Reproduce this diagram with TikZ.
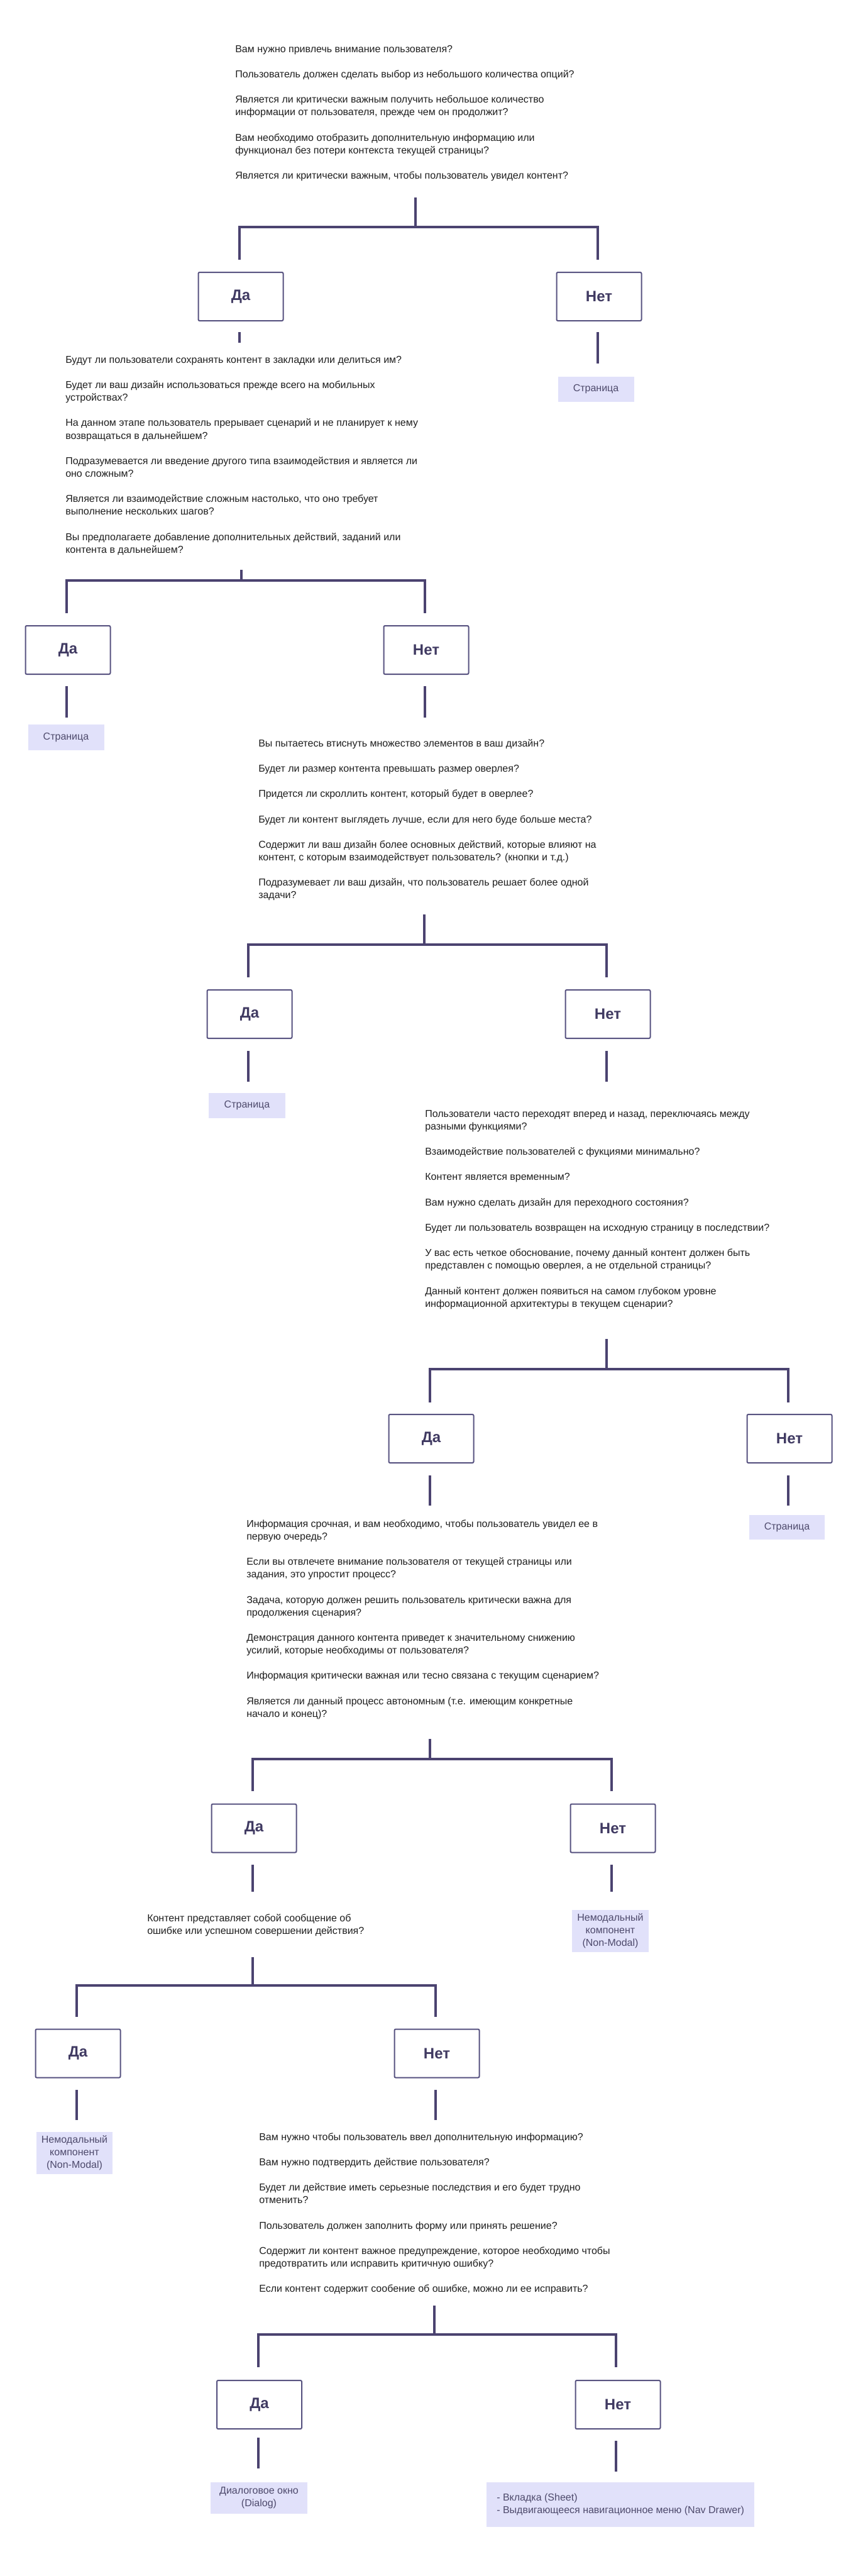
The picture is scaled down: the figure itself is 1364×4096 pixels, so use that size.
\documentclass[tikz,border=0pt]{standalone}
\usepackage{fontspec}
\setmainfont{Liberation Sans}
\definecolor{linec}{HTML}{4B4370}
\definecolor{boxc}{HTML}{575280}
\definecolor{labc}{HTML}{403A62}
\definecolor{resf}{HTML}{E1E1FA}
\definecolor{rest}{HTML}{4E4A6C}
\definecolor{qc}{HTML}{1F1F1F}
\newcommand\pg{15.1pt}
\newcommand\qs{\rule{0pt}{12pt}}
\newcommand\mkTee[7]{%
  \coordinate (#1t) at (#2,#3);
  \coordinate (#1m) at (#2,#4);
  \coordinate (#1l) at (#5,#4);
  \coordinate (#1r) at (#6,#4);
  \coordinate (#1ld) at (#5,#7);
  \coordinate (#1rd) at (#6,#7);
  \draw[conn] (#1t) -- (#1m);
  \draw[conn] (#1ld) -- (#1l) -- (#1r) -- (#1rd);}
\newcommand\mkLine[4]{%
  \coordinate (#1a) at (#2,#3);
  \coordinate (#1b) at (#2,#4);
  \draw[conn] (#1a) -- (#1b);}
\begin{document}
\begin{tikzpicture}[x=0.75pt,y=-0.75pt,
  conn/.style={draw=linec,line width=3.4pt},
  qtext/.style={anchor=north west,inner sep=0pt,align=left,text=qc,font=\fontsize{12pt}{\pg}\selectfont},
  yn/.style={draw=boxc,line width=1.5pt,rounded corners=1.5pt,minimum width=101.25pt,minimum height=57.75pt,inner sep=0pt,text=labc,font=\fontsize{18pt}{21pt}\selectfont\bfseries},
  res/.style={fill=resf,inner sep=0pt,align=center,text=rest,font=\fontsize{12pt}{15pt}\selectfont},
]
\useasboundingbox (0,0) rectangle (1364,4096);
\fill[white] (0,0) rectangle (1364,4096);

% ---------- Section 1
\node[qtext] (q1) at (374,67) {\qs Вам нужно привлечь внимание пользователя?\\[\pg]
Пользователь должен сделать выбор из небольшого количества опций?\\[\pg]
Является ли критически важным получить небольшое количество\\
информации от пользователя, прежде чем он продолжит?\\[\pg]
Вам необходимо отобразить дополнительную информацию или\\
функционал без потери контекста текущей страницы?\\[\pg]
Является ли критически важным, чтобы пользователь увидел контент?};
\mkTee{s1}{661}{314}{361}{381}{951}{413}
\node[yn] (da1) at (383,471.5) {Да};
\node[yn] (net1) at (953,471.5) {Нет};
\mkLine{u1l}{381}{528}{545}
\mkLine{u1r}{951}{528}{578}
\node[res,minimum width=90.75pt,minimum height=30pt] (res1) at (948,619) {Страница};

% ---------- Section 2
\node[qtext] (q2) at (104,561) {\qs Будут ли пользователи сохранять контент в закладки или делиться им?\\[\pg]
Будет ли ваш дизайн использоваться прежде всего на мобильных\\
устройствах?\\[\pg]
На данном этапе пользователь прерывает сценарий и не планирует к нему\\
возвращаться в дальнейшем?\\[\pg]
Подразумевается ли введение другого типа взаимодействия и является ли\\
оно сложным?\\[\pg]
Является ли взаимодействие сложным настолько, что оно требует\\
выполнение нескольких шагов?\\[\pg]
Вы предполагаете добавление дополнительных действий, заданий или\\
контента в дальнейшем?};
\mkTee{s2}{384}{906}{923}{106}{676}{975}
\node[yn] (da2) at (108,1033.5) {Да};
\node[yn] (net2) at (678,1033.5) {Нет};
\mkLine{u2l}{106}{1091}{1141}
\mkLine{u2r}{676}{1091}{1141}
\node[res,minimum width=90.75pt,minimum height=30.75pt] (res2) at (105,1172.5) {Страница};

% ---------- Section 3
\node[qtext] (q3) at (411,1171) {\qs Вы пытаетесь втиснуть множество элементов в ваш дизайн?\\[\pg]
Будет ли размер контента превышать размер оверлея?\\[\pg]
Придется ли скроллить контент, который будет в оверлее?\\[\pg]
Будет ли контент выглядеть лучше, если для него буде больше места?\\[\pg]
Содержит ли ваш дизайн более основных действий, которые влияют на\\
контент, с которым взаимодействует пользователь? (кнопки и т.д.)\\[\pg]
Подразумевает ли ваш дизайн, что пользователь решает более одной\\
задачи?};
\mkTee{s3}{675}{1454}{1502}{395}{965}{1554}
\node[yn] (da3) at (397,1612.5) {Да};
\node[yn] (net3) at (967,1612.5) {Нет};
\mkLine{u3l}{395}{1671}{1720}
\mkLine{u3r}{965}{1671}{1720}
\node[res,minimum width=91.5pt,minimum height=30pt] (res3) at (393,1758) {Страница};

% ---------- Section 4
\node[qtext] (q4) at (676,1760) {\qs Пользователи часто переходят вперед и назад, переключаясь между\\
разными функциями?\\[\pg]
Взаимодействие пользователей с фукциями минимально?\\[\pg]
Контент является временным?\\[\pg]
Вам нужно сделать дизайн для переходного состояния?\\[\pg]
Будет ли пользователь возвращен на исходную страницу в последствии?\\[\pg]
У вас есть четкое обоснование, почему данный контент должен быть\\
представлен с помощью оверлея, а не отдельной страницы?\\[\pg]
Данный контент должен появиться на самом глубоком уровне\\
информационной архитектуры в текущем сценарии?};
\mkTee{s4}{965}{2129}{2177}{684}{1254}{2230}
\node[yn] (da4) at (686,2287.5) {Да};
\node[yn] (net4) at (1256,2287.5) {Нет};
\mkLine{u4l}{684}{2346}{2394}
\mkLine{u4r}{1254}{2346}{2394}
\node[res,minimum width=90pt,minimum height=29.25pt] (res4) at (1252,2428.5) {Страница};

% ---------- Section 5
\node[qtext] (q5) at (392,2412) {\qs Информация срочная, и вам необходимо, чтобы пользователь увидел ее в\\
первую очередь?\\[\pg]
Если вы отвлечете внимание пользователя от текущей страницы или\\
задания, это упростит процесс?\\[\pg]
Задача, которую должен решить пользователь критически важна для\\
продолжения сценария?\\[\pg]
Демонстрация данного контента приведет к значительному снижению\\
усилий, которые необходимы от пользователя?\\[\pg]
Информация критически важная или тесно связана с текущим сценарием?\\[\pg]
Является ли данный процесс автономным (т.е. имеющим конкретные\\
начало и конец)?};
\mkTee{s5}{684}{2765}{2797}{402}{973}{2848}
\node[yn] (da5) at (404,2907) {Да};
\node[yn] (net5) at (975,2907) {Нет};
\mkLine{u5l}{402}{2965}{3008}
\mkLine{u5r}{973}{2965}{3008}
\node[res,minimum width=91.5pt,minimum height=50.25pt] (res5) at (971,3070.5) {Немодальный\\компонент\\(Non-Modal)};

% ---------- Section 6
\node[qtext] (q6) at (234,3039) {\qs Контент представляет собой сообщение об\\
ошибке или успешном совершении действия?};
\mkTee{s6}{402}{3112}{3157}{122}{693}{3207}
\node[yn] (da6) at (124,3265) {Да};
\node[yn] (net6) at (695,3265) {Нет};
\mkLine{u6l}{122}{3323}{3371}
\mkLine{u6r}{693}{3323}{3371}
\node[res,minimum width=90.75pt,minimum height=50.25pt] (res6) at (118.5,3423.5) {Немодальный\\компонент\\(Non-Modal)};

% ---------- Section 7
\node[qtext] (q7) at (412,3387) {\qs Вам нужно чтобы пользователь ввел дополнительную информацию?\\[\pg]
Вам нужно подтвердить действие пользователя?\\[\pg]
Будет ли действие иметь серьезные последствия и его будет трудно\\
отменить?\\[\pg]
Пользователь должен заполнить форму или принять решение?\\[\pg]
Содержит ли контент важное предупреждение, которое необходимо чтобы\\
предотвратить или исправить критичную ошибку?\\[\pg]
Если контент содержит сообение об ошибке, можно ли ее исправить?};
\mkTee{s7}{691}{3666}{3712}{411}{980}{3764}
\node[yn] (da7) at (412.5,3823.5) {Да};
\node[yn] (net7) at (983,3823.5) {Нет};
\mkLine{u7l}{411}{3876}{3925}
\mkLine{u7r}{980}{3881}{3930}
\node[res,minimum width=115.5pt,minimum height=37.5pt] (res7a) at (412,3972) {Диалоговое окно\\(Dialog)};
\node[res,align=left,anchor=west,inner xsep=12pt,minimum height=53.25pt] (res7b) at (774,3982.5) {- Вкладка (Sheet)\\- Выдвигающееся навигационное меню (Nav Drawer)};
\end{tikzpicture}
\end{document}
